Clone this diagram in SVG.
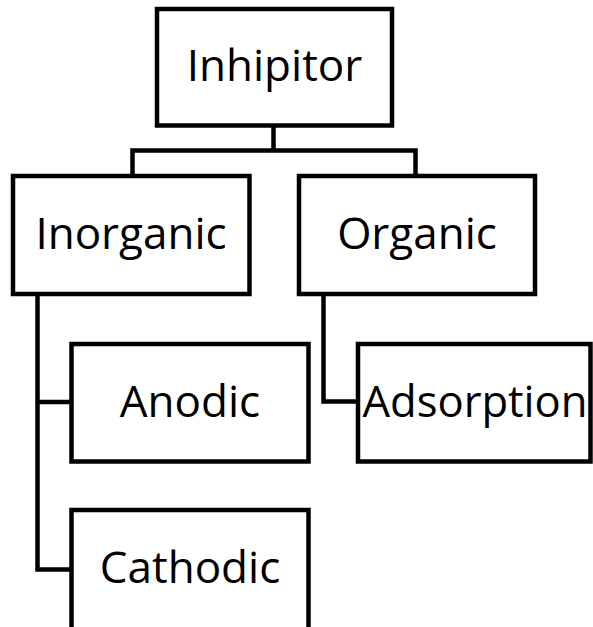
<svg xmlns="http://www.w3.org/2000/svg" width="593" height="627" viewBox="0 0 593 627">
  <style>
    .box { fill: #ffffff; stroke: #000000; stroke-width: 4.5; stroke-linejoin: miter; }
    .lbl { font-family: "Open Sans", "Liberation Sans", sans-serif; font-size: 44px; fill: #000000; text-anchor: middle; }
    .conn { fill: none; stroke: #000000; stroke-width: 4.5; stroke-linejoin: miter; stroke-linecap: butt; }
  </style>
  <rect width="593" height="627" fill="#ffffff"/>
  <g id="connectors">
    <path class="conn" d="M273.5,125.5 V150.5"/>
    <path class="conn" d="M132.5,176 V150.5 H415.5 V176"/>
    <path class="conn" d="M37.5,294 V569.5 H71.5"/>
    <path class="conn" d="M37.5,402 H71.5"/>
    <path class="conn" d="M323.5,294 V401.5 H358"/>
  </g>
  <g id="inhipitor">
    <rect class="box" x="157" y="9" width="235" height="116.5"/>
    <text class="lbl" x="274.5" y="81">Inhipitor</text>
  </g>
  <g id="inorganic">
    <rect class="box" x="13" y="176" width="236.5" height="118"/>
    <text class="lbl" x="131" y="249">Inorganic</text>
  </g>
  <g id="organic">
    <rect class="box" x="299" y="176" width="236" height="118"/>
    <text class="lbl" x="417" y="249">Organic</text>
  </g>
  <g id="anodic">
    <rect class="box" x="71.5" y="344" width="237" height="117.5"/>
    <text class="lbl" x="190" y="417">Anodic</text>
  </g>
  <g id="adsorption">
    <rect class="box" x="358" y="344" width="232.5" height="117.5"/>
    <text class="lbl" x="475" y="417" textLength="225" lengthAdjust="spacingAndGlyphs">Adsorption</text>
  </g>
  <g id="cathodic">
    <rect class="box" x="71.5" y="510" width="237" height="130"/>
    <text class="lbl" x="190" y="583">Cathodic</text>
  </g>
</svg>
